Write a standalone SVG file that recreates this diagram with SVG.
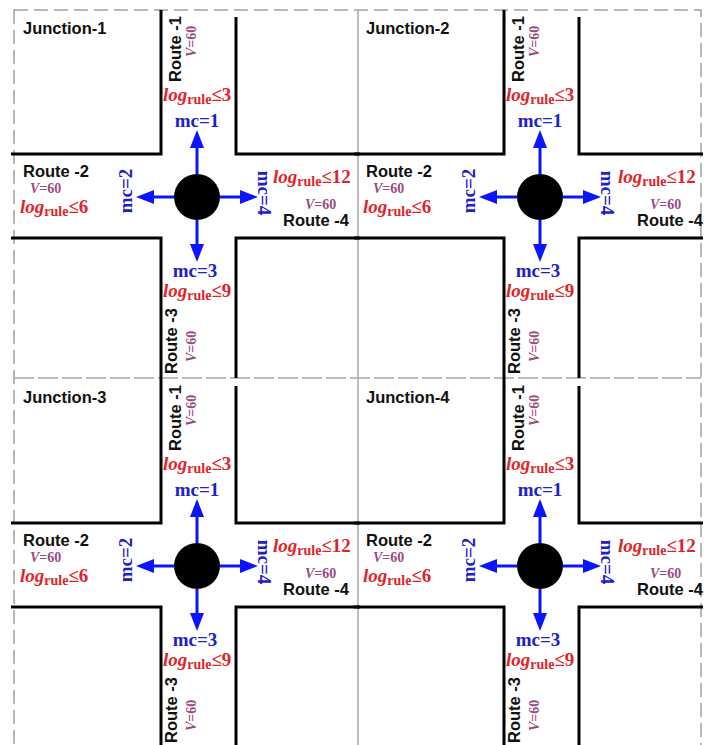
<svg xmlns="http://www.w3.org/2000/svg" width="715" height="745" viewBox="0 0 715 745">
<style>
.frame{fill:none;stroke:#a0a0a0;stroke-width:1.5;stroke-dasharray:14 6}
.mid{fill:none;stroke:#a8a8a8;stroke-width:1.5}
.middash{fill:none;stroke:#a8a8a8;stroke-width:1.5;stroke-dasharray:20 4}
.road{fill:none;stroke:#000;stroke-width:3}
.lbl{font-family:"Liberation Sans",Arial,sans-serif;font-weight:bold;font-size:16.5px;fill:#111}
.mc{font-family:"Liberation Serif","Times New Roman",serif;font-weight:bold;font-size:19px;fill:#2020c8}
.log{font-family:"Liberation Serif","Times New Roman",serif;font-weight:bold;font-size:19px;fill:#e0242a}
.sub{font-size:14px}
.v{font-family:"Liberation Serif","Times New Roman",serif;font-weight:bold;font-size:14px;fill:#9a4a82}
.arrow{fill:none;stroke:#0a14ff;stroke-width:3;marker-end:url(#ah)}
</style>
<defs>
<marker id="ah" viewBox="0 0 18 14" refX="0" refY="7" markerWidth="18" markerHeight="14" markerUnits="userSpaceOnUse" orient="auto"><path d="M0,0 L18,7 L0,14 z" fill="#0a14ff"/></marker>
<clipPath id="clipR"><rect x="0" y="0" width="705" height="745"/></clipPath>
</defs>
<rect width="715" height="745" fill="#fff"/>
<g id="grid">
<rect class="frame" x="14" y="10" width="687" height="740"/>
<line class="mid" x1="358" y1="10" x2="358" y2="745"/>
<line class="middash" x1="14" y1="378" x2="701" y2="378"/>
</g>

<g id="junction-1">
<path class="road" d="M11,154 H161 V10"/>
<path class="road" d="M236,17 V154 H360"/>
<path class="road" d="M11,238 H161 V379"/>
<path class="road" d="M360,238 H236 V378"/>
<circle cx="197" cy="197" r="23" fill="#000"/>
<text class="lbl" x="23" y="34">Junction-1</text>
<text class="lbl" transform="translate(181,82) rotate(-90)">Route -1</text>
<text class="v" transform="translate(196,57) rotate(-90)"><tspan font-style="italic">V</tspan>=60</text>
<text class="log" x="163" y="101"><tspan font-style="italic">log</tspan><tspan class="sub" dy="3">rule</tspan><tspan dy="-3">≤3</tspan></text>
<text class="mc" x="197" y="127" text-anchor="middle">mc=1</text>
<text class="lbl" x="23" y="177">Route -2</text>
<text class="v" x="30" y="193"><tspan font-style="italic">V</tspan>=60</text>
<text class="log" x="20" y="213"><tspan font-style="italic">log</tspan><tspan class="sub" dy="3">rule</tspan><tspan dy="-3">≤6</tspan></text>
<text class="mc" transform="translate(132,191) rotate(-90)" text-anchor="middle">mc=2</text>
<text class="mc" transform="translate(258,193) rotate(90)" text-anchor="middle">mc=4</text>
<text class="log" x="273" y="183"><tspan font-style="italic">log</tspan><tspan class="sub" dy="3">rule</tspan><tspan dy="-3">≤12</tspan></text>
<text class="v" x="305" y="209"><tspan font-style="italic">V</tspan>=60</text>
<text class="lbl" x="283" y="226">Route -4</text>
<text class="mc" x="195" y="277" text-anchor="middle">mc=3</text>
<text class="log" x="163" y="297"><tspan font-style="italic">log</tspan><tspan class="sub" dy="3">rule</tspan><tspan dy="-3">≤9</tspan></text>
<text class="lbl" transform="translate(177,374) rotate(-90)">Route -3</text>
<text class="v" transform="translate(196,362) rotate(-90)"><tspan font-style="italic">V</tspan>=60</text>
</g>

<g id="junction-2" transform="translate(343,0)">
<path class="road" d="M11,154 H161 V10"/>
<path class="road" d="M236,17 V154 H360"/>
<path class="road" d="M11,238 H161 V379"/>
<path class="road" d="M360,238 H236 V378"/>
<circle cx="197" cy="197" r="23" fill="#000"/>
<text class="lbl" x="23" y="34">Junction-2</text>
<text class="lbl" transform="translate(181,82) rotate(-90)">Route -1</text>
<text class="v" transform="translate(196,57) rotate(-90)"><tspan font-style="italic">V</tspan>=60</text>
<text class="log" x="163" y="101"><tspan font-style="italic">log</tspan><tspan class="sub" dy="3">rule</tspan><tspan dy="-3">≤3</tspan></text>
<text class="mc" x="197" y="127" text-anchor="middle">mc=1</text>
<text class="lbl" x="23" y="177">Route -2</text>
<text class="v" x="30" y="193"><tspan font-style="italic">V</tspan>=60</text>
<text class="log" x="20" y="213"><tspan font-style="italic">log</tspan><tspan class="sub" dy="3">rule</tspan><tspan dy="-3">≤6</tspan></text>
<text class="mc" transform="translate(132,191) rotate(-90)" text-anchor="middle">mc=2</text>
<text class="mc" transform="translate(258,193) rotate(90)" text-anchor="middle">mc=4</text>
<text class="log" x="275" y="183"><tspan font-style="italic">log</tspan><tspan class="sub" dy="3">rule</tspan><tspan dy="-3">≤12</tspan></text>
<text class="v" x="307" y="209"><tspan font-style="italic">V</tspan>=60</text>
<text class="lbl" x="294" y="226" clip-path="url(#clipR)" transform="translate(0,0)">Route -4</text>
<text class="mc" x="195" y="277" text-anchor="middle">mc=3</text>
<text class="log" x="163" y="297"><tspan font-style="italic">log</tspan><tspan class="sub" dy="3">rule</tspan><tspan dy="-3">≤9</tspan></text>
<text class="lbl" transform="translate(177,374) rotate(-90)">Route -3</text>
<text class="v" transform="translate(196,362) rotate(-90)"><tspan font-style="italic">V</tspan>=60</text>
</g>

<g id="junction-3" transform="translate(0,369)">
<path class="road" d="M11,154 H161 V10"/>
<path class="road" d="M236,17 V154 H360"/>
<path class="road" d="M11,238 H161 V379"/>
<path class="road" d="M360,238 H236 V378"/>
<circle cx="197" cy="197" r="23" fill="#000"/>
<text class="lbl" x="23" y="34">Junction-3</text>
<text class="lbl" transform="translate(181,82) rotate(-90)">Route -1</text>
<text class="v" transform="translate(196,57) rotate(-90)"><tspan font-style="italic">V</tspan>=60</text>
<text class="log" x="163" y="101"><tspan font-style="italic">log</tspan><tspan class="sub" dy="3">rule</tspan><tspan dy="-3">≤3</tspan></text>
<text class="mc" x="197" y="127" text-anchor="middle">mc=1</text>
<text class="lbl" x="23" y="177">Route -2</text>
<text class="v" x="30" y="193"><tspan font-style="italic">V</tspan>=60</text>
<text class="log" x="20" y="213"><tspan font-style="italic">log</tspan><tspan class="sub" dy="3">rule</tspan><tspan dy="-3">≤6</tspan></text>
<text class="mc" transform="translate(132,191) rotate(-90)" text-anchor="middle">mc=2</text>
<text class="mc" transform="translate(258,193) rotate(90)" text-anchor="middle">mc=4</text>
<text class="log" x="273" y="183"><tspan font-style="italic">log</tspan><tspan class="sub" dy="3">rule</tspan><tspan dy="-3">≤12</tspan></text>
<text class="v" x="305" y="209"><tspan font-style="italic">V</tspan>=60</text>
<text class="lbl" x="283" y="226">Route -4</text>
<text class="mc" x="195" y="277" text-anchor="middle">mc=3</text>
<text class="log" x="163" y="297"><tspan font-style="italic">log</tspan><tspan class="sub" dy="3">rule</tspan><tspan dy="-3">≤9</tspan></text>
<text class="lbl" transform="translate(177,374) rotate(-90)">Route -3</text>
<text class="v" transform="translate(196,362) rotate(-90)"><tspan font-style="italic">V</tspan>=60</text>
</g>

<g id="junction-4" transform="translate(343,369)">
<path class="road" d="M11,154 H161 V10"/>
<path class="road" d="M236,17 V154 H360"/>
<path class="road" d="M11,238 H161 V379"/>
<path class="road" d="M360,238 H236 V378"/>
<circle cx="197" cy="197" r="23" fill="#000"/>
<text class="lbl" x="23" y="34">Junction-4</text>
<text class="lbl" transform="translate(181,82) rotate(-90)">Route -1</text>
<text class="v" transform="translate(196,57) rotate(-90)"><tspan font-style="italic">V</tspan>=60</text>
<text class="log" x="163" y="101"><tspan font-style="italic">log</tspan><tspan class="sub" dy="3">rule</tspan><tspan dy="-3">≤3</tspan></text>
<text class="mc" x="197" y="127" text-anchor="middle">mc=1</text>
<text class="lbl" x="23" y="177">Route -2</text>
<text class="v" x="30" y="193"><tspan font-style="italic">V</tspan>=60</text>
<text class="log" x="20" y="213"><tspan font-style="italic">log</tspan><tspan class="sub" dy="3">rule</tspan><tspan dy="-3">≤6</tspan></text>
<text class="mc" transform="translate(132,191) rotate(-90)" text-anchor="middle">mc=2</text>
<text class="mc" transform="translate(258,193) rotate(90)" text-anchor="middle">mc=4</text>
<text class="log" x="275" y="183"><tspan font-style="italic">log</tspan><tspan class="sub" dy="3">rule</tspan><tspan dy="-3">≤12</tspan></text>
<text class="v" x="307" y="209"><tspan font-style="italic">V</tspan>=60</text>
<text class="lbl" x="294" y="226">Route -4</text>
<text class="mc" x="195" y="277" text-anchor="middle">mc=3</text>
<text class="log" x="163" y="297"><tspan font-style="italic">log</tspan><tspan class="sub" dy="3">rule</tspan><tspan dy="-3">≤9</tspan></text>
<text class="lbl" transform="translate(177,374) rotate(-90)">Route -3</text>
<text class="v" transform="translate(196,362) rotate(-90)"><tspan font-style="italic">V</tspan>=60</text>
</g>

<g id="connectors">
<path class="arrow" d="M197,174 V148"/>
<path class="arrow" d="M174,197 H154"/>
<path class="arrow" d="M220,197 H240"/>
<path class="arrow" d="M197,220 V244"/>
<path class="arrow" d="M540,174 V148"/>
<path class="arrow" d="M517,197 H497"/>
<path class="arrow" d="M563,197 H583"/>
<path class="arrow" d="M540,220 V244"/>
<path class="arrow" d="M197,543 V517"/>
<path class="arrow" d="M174,566 H154"/>
<path class="arrow" d="M220,566 H240"/>
<path class="arrow" d="M197,589 V613"/>
<path class="arrow" d="M540,543 V517"/>
<path class="arrow" d="M517,566 H497"/>
<path class="arrow" d="M563,566 H583"/>
<path class="arrow" d="M540,589 V613"/>
</g>
</svg>
